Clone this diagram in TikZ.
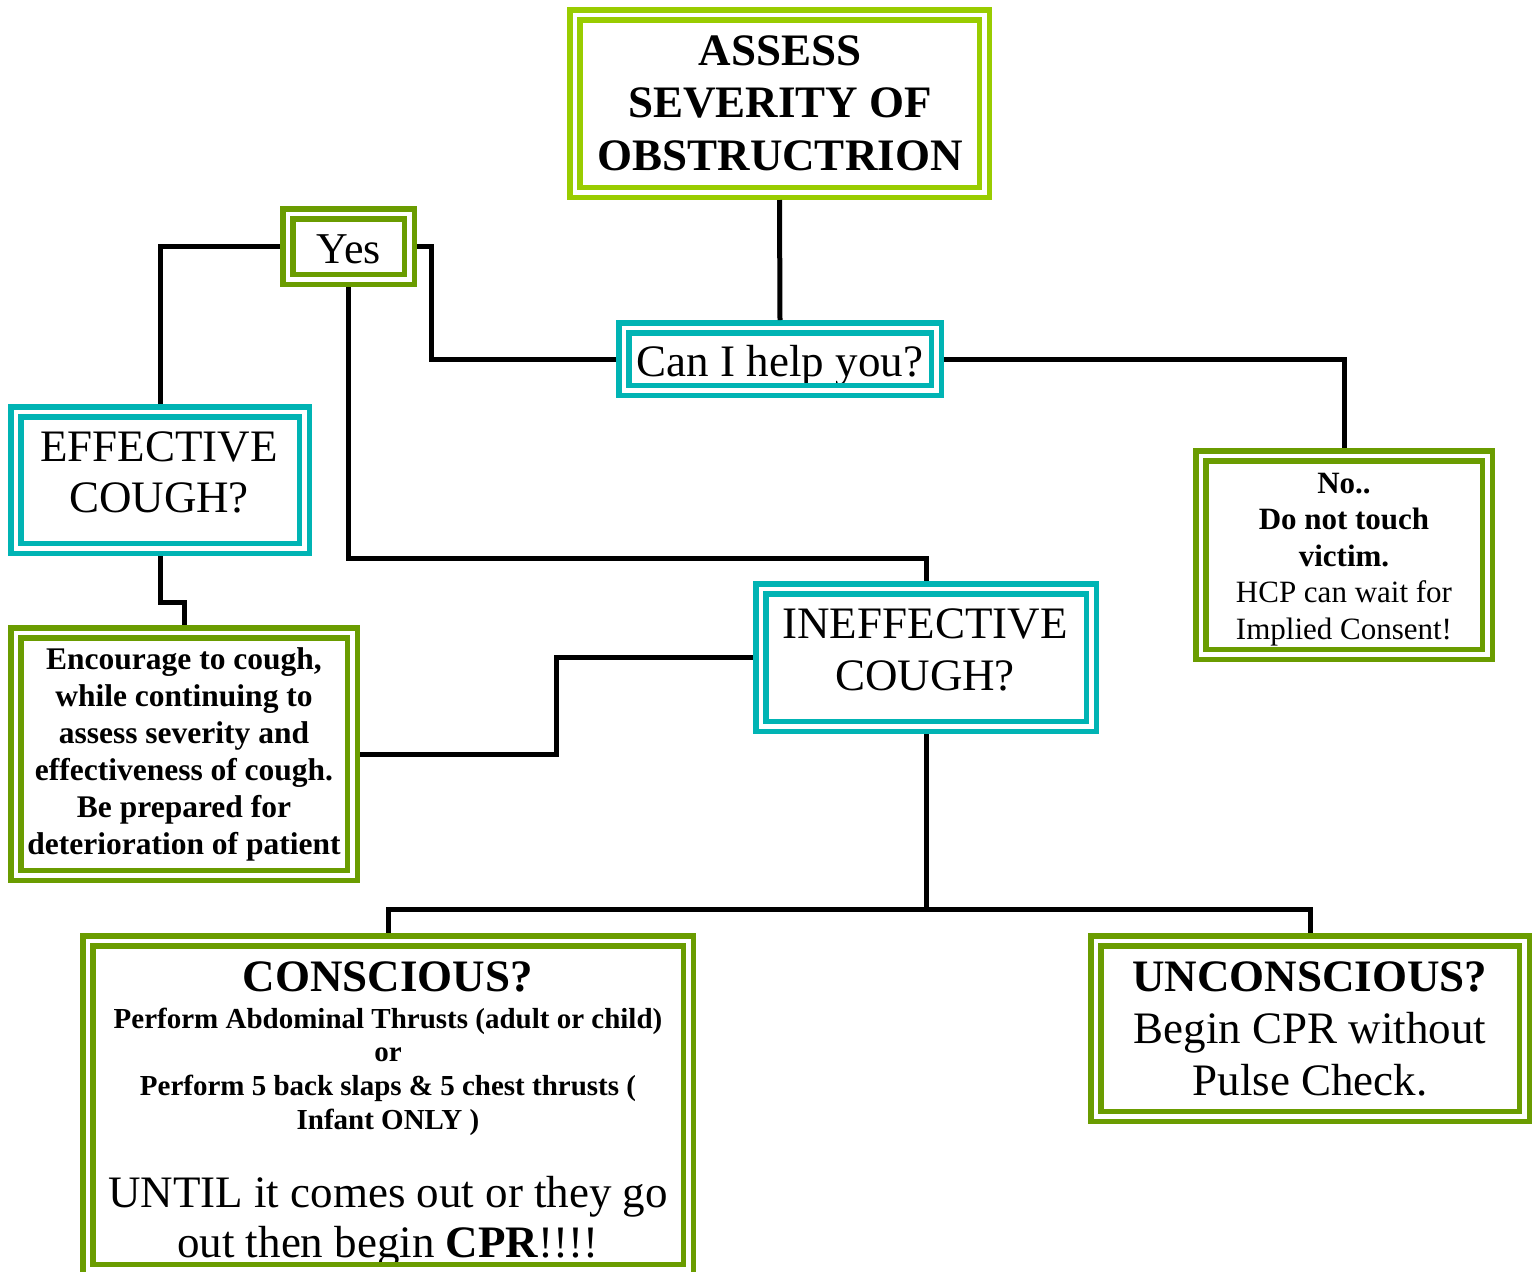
\documentclass[tikz,border=0pt]{standalone}
\usepackage{fontspec}
\setmainfont{Liberation Serif}
\definecolor{lgreen}{RGB}{153,204,0}
\definecolor{dgreen}{RGB}{106,156,0}
\definecolor{tealb}{RGB}{0,180,180}
\begin{document}
\begin{tikzpicture}[x=1pt,y=-1pt,
  dbox/.style={rectangle, draw=#1, line width=5.5pt, double=white, double distance=4.5pt, inner sep=0pt, outer sep=7.75pt},
  txt/.style={inner sep=0pt, outer sep=0pt, align=center, text=black},
  bigA/.style={txt, font=\fontsize{45}{52}\selectfont},
  bigB/.style={txt, font=\fontsize{45}{52.5}\selectfont\bfseries},
  bigC/.style={txt, font=\fontsize{45}{51}\selectfont},
  bigD/.style={txt, font=\fontsize{45}{50}\selectfont},
  yesf/.style={txt, font=\fontsize{44}{52}\selectfont},
  midA/.style={txt, font=\fontsize{31}{36.5}\selectfont},
  midB/.style={txt, font=\fontsize{31.5}{37}\selectfont\bfseries},
  smallB/.style={txt, font=\fontsize{29}{33.7}\selectfont\bfseries},
  wire/.style={draw=black, line width=5pt}
]
\clip (0,0) rectangle (1532,1272);
\fill[white] (0,0) rectangle (1532,1272);

% texts
\node[bigB] (ttop) at (780,107) {\strut ASSESS\\\strut SEVERITY OF\\\strut OBSTRUCTRION};
\node[yesf] (tyes) at (349,252.6) {\strut Yes};
\node[bigA] (tcan) at (780,365.6) {\strut Can I help you?};
\node[midA] (tno) at (1344,558.7) {\strut\textbf{No..}\\\strut\textbf{Do not touch}\\\strut\textbf{victim.}\\\strut HCP can wait for\\\strut Implied Consent!};
\node[bigC] (teff) at (159,476.3) {\strut EFFECTIVE\\\strut COUGH?};
\node[midB] (tenc) at (184,754.1) {\strut Encourage to cough,\\\strut while continuing to\\\strut assess severity and\\\strut effectiveness of cough.\\\strut Be prepared for\\\strut deterioration of patient};
\node[bigA] (tineff) at (925,653.6) {\strut INEFFECTIVE\\\strut COUGH?};
\node[bigA, font=\fontsize{45}{52}\selectfont\bfseries] (tcon1) at (388,980.6) {\strut CONSCIOUS?};
\node[smallB] (tcon2) at (388,1071.8) {\strut Perform Abdominal Thrusts (adult or child)\\\strut or\\\strut Perform 5 back slaps \& 5 chest thrusts (\\\strut Infant ONLY )};
\node[bigD] (tcon3) at (388,1222) {\strut UNTIL it comes out or they go\\\strut out then begin \textbf{CPR}!!!!};
\node[bigA] (tuncon) at (1310,1032.6) {\strut\textbf{UNCONSCIOUS?}\\\strut Begin CPR without\\\strut Pulse Check.};

% boxes
\node[dbox=lgreen, minimum width=409.5pt, minimum height=177.5pt] (top) at (779.5,103.5) {};
\node[dbox=dgreen, minimum width=121.5pt, minimum height=65.5pt] (yes) at (348.5,246.5) {};
\node[dbox=tealb, minimum width=312.5pt, minimum height=62.5pt] (can) at (780,359) {};
\node[dbox=dgreen, minimum width=286.5pt, minimum height=198.5pt] (no) at (1344,555) {};
\node[dbox=tealb, minimum width=288.5pt, minimum height=136.5pt] (eff) at (160,480) {};
\node[dbox=dgreen, minimum width=336.5pt, minimum height=242.5pt] (enc) at (184,754) {};
\node[dbox=tealb, minimum width=330.5pt, minimum height=137.5pt] (ineff) at (926,657.5) {};
\node[dbox=dgreen, minimum width=600.5pt, minimum height=328.5pt] (con) at (388,1105) {};
\node[dbox=dgreen, minimum width=428.5pt, minimum height=175.5pt] (uncon) at (1310,1028.5) {};

% connectors
\coordinate (jA) at (431,0);
\coordinate (jB) at (0,558);
\coordinate (jC) at (0,602);
\coordinate (jD) at (556,0);
\coordinate (jE) at (0,909);
\draw[wire] (top.south) -- (can.north);
\draw[wire] (can.west) -- (can.west -| jA) |- (yes.east);
\draw[wire] (can.east) -| (no.north);
\draw[wire] (yes.west) -| (eff.north);
\draw[wire] (yes.south) -- (yes.south |- jB) -| (ineff.north);
\draw[wire] (eff.south) -- (eff.south |- jC) -| (enc.north);
\draw[wire] (enc.east) -- (enc.east -| jD) |- (ineff.west);
\draw[wire] (ineff.south) -- (ineff.south |- jE) -| (con.north);
\draw[wire] (ineff.south |- jE) -| (uncon.north);
\end{tikzpicture}
\end{document}
